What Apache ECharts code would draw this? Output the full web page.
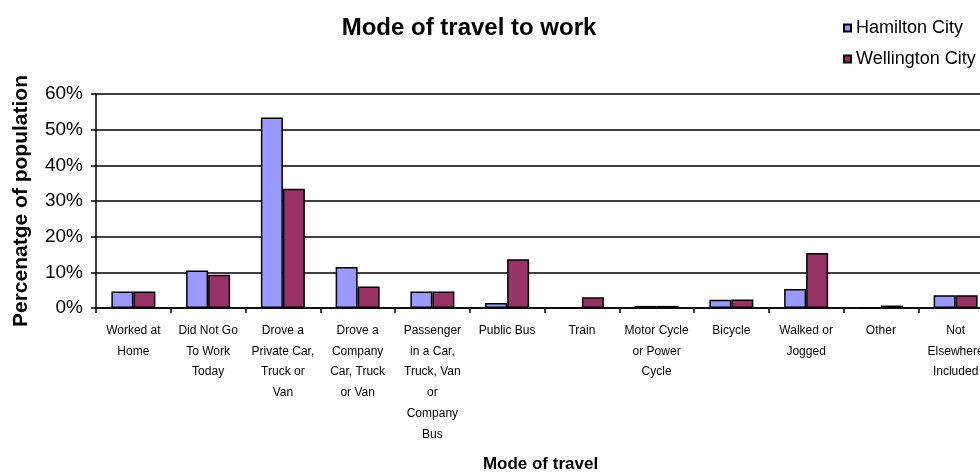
<!DOCTYPE html>
<html><head><meta charset="utf-8">
<script src="https://cdn.jsdelivr.net/npm/echarts@6/dist/echarts.min.js"></script>
<style>html,body{margin:0;padding:0;background:#fff}#c{width:980px;height:473px}</style>
</head><body><div id="c"></div>
<script>
var categories = [
  "Worked at\nHome",
  "Did Not Go\nTo Work\nToday",
  "Drove a\nPrivate Car,\nTruck or\nVan",
  "Drove a\nCompany\nCar, Truck\nor Van",
  "Passenger\nin a Car,\nTruck, Van\nor\nCompany\nBus",
  "Public Bus",
  "Train",
  "Motor Cycle\nor Power\nCycle",
  "Bicycle",
  "Walked or\nJogged",
  "Other",
  "Not\nElsewhere\nIncluded"
];
var hamilton = [4.6, 10.5, 53.4, 11.5, 4.6, 1.4, 0, 0.6, 2.3, 5.3, 0, 3.6];
var wellington = [4.6, 9.3, 33.4, 6.0, 4.6, 13.7, 3.0, 0.6, 2.4, 15.4, 0.7, 3.6];
var yTicks = [0, 10, 20, 30, 40, 50, 60];

var chart = echarts.init(document.getElementById('c'), null, {renderer: 'canvas'});
var font = 'Liberation Sans, Arial, sans-serif';
chart.setOption({
  animation: false,
  backgroundColor: '#fff',
  title: {
    text: 'Mode of travel to work',
    left: 464, top: 11, textAlign: 'center',
    textStyle: {fontFamily: font, fontWeight: 'bold', fontSize: 24, color: '#000', letterSpacing: -0.7}
  },
  legend: {
    orient: 'vertical', left: 838, top: 14,
    itemWidth: 7, itemHeight: 7, itemGap: 13,
    icon: 'rect',
    textStyle: {fontFamily: font, fontSize: 18, color: '#000', letterSpacing: -1},
    data: ['Hamilton City', 'Wellington City']
  },
  grid: {left: 96, top: 94, height: 214, width: 897, containLabel: false, outerBoundsMode: 'none'},
  xAxis: {
    type: 'category', data: categories,
    name: 'Mode of travel', nameLocation: 'middle', nameGap: 148,
    nameTextStyle: {fontFamily: font, fontWeight: 'bold', fontSize: 17, color: '#000', letterSpacing: -0.8, padding: [0, 8, 0, 0]},
    axisLine: {lineStyle: {color: '#000', width: 1.5}},
    axisTick: {show: true, length: 5, lineStyle: {color: '#000', width: 1.5}},
    axisLabel: {interval: 0, fontFamily: font, fontSize: 12, color: '#000', lineHeight: 20.8, margin: 12, letterSpacing: -0.3}
  },
  yAxis: {
    type: 'value', min: 0, max: 60, interval: 10,
    name: 'Percenatge of population', nameLocation: 'middle', nameGap: 64,
    nameTextStyle: {fontFamily: font, fontWeight: 'bold', fontSize: 21, color: '#000'},
    axisLine: {show: true, lineStyle: {color: '#000', width: 1.5}},
    axisTick: {show: true, length: 5, inside: false, lineStyle: {color: '#000', width: 1.5}},
    axisLabel: {fontFamily: font, fontSize: 19, color: '#000', margin: 13, letterSpacing: -1.5,
      formatter: function (v) { return yTicks.indexOf(v) >= 0 ? v + '%' : ''; }},
    splitLine: {show: true, lineStyle: {color: '#000', width: 1.5}}
  },
  series: [
    {name: 'Hamilton City', type: 'bar', data: hamilton, barWidth: 22, barGap: '0%',
      itemStyle: {color: '#9999FF', borderColor: '#000', borderWidth: 1.5}},
    {name: 'Wellington City', type: 'bar', data: wellington, barWidth: 22, barGap: '0%',
      itemStyle: {color: '#993366', borderColor: '#000', borderWidth: 1.5}}
  ]
});
</script></body></html>
